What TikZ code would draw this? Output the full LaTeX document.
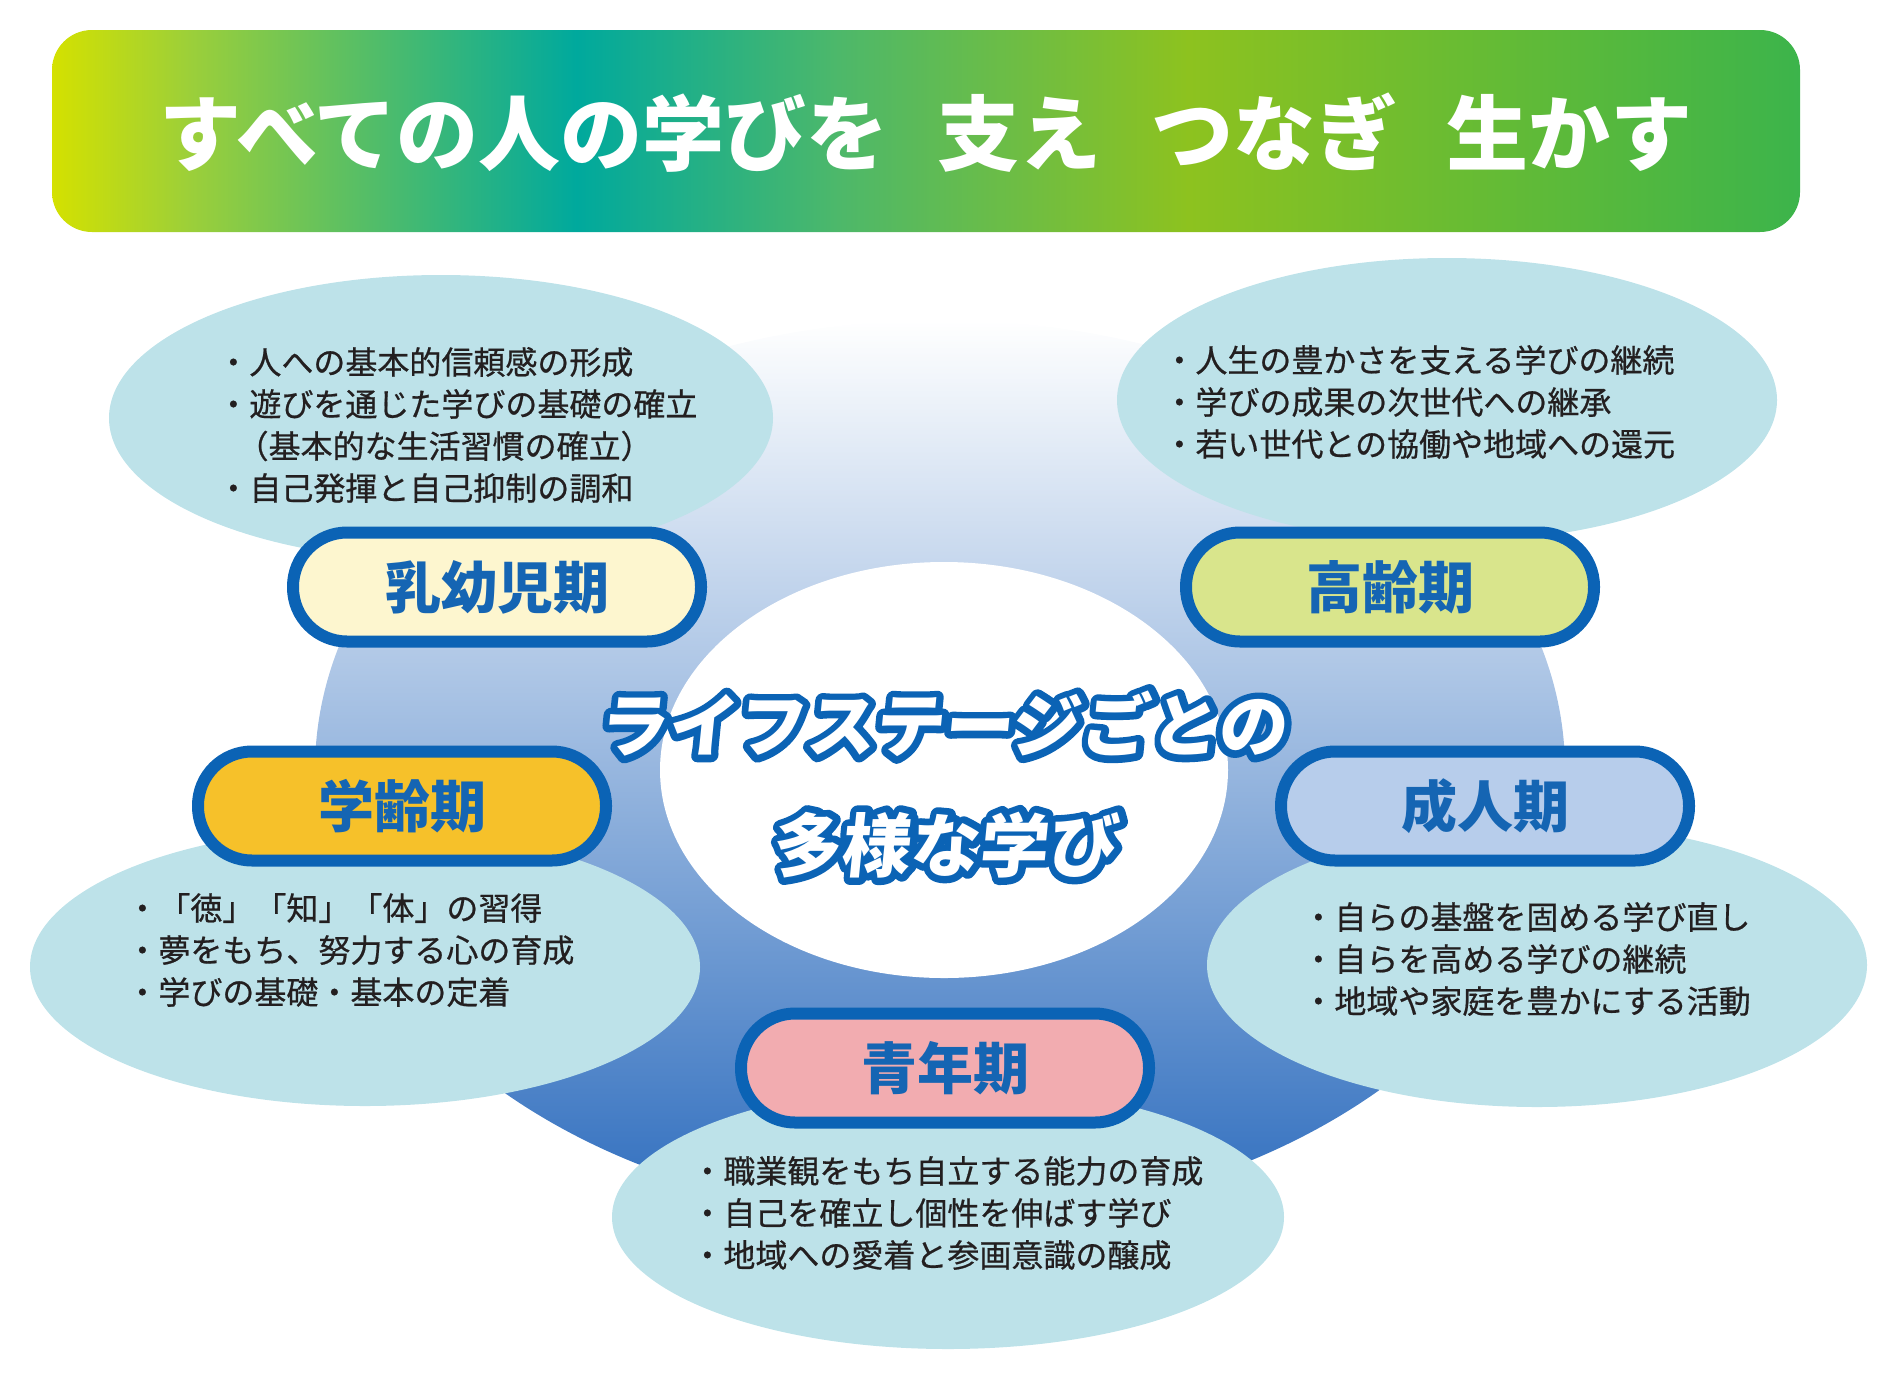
\documentclass[tikz,border=0pt]{standalone}
\usepackage{fontspec}
\usepackage{tikz}
\usetikzlibrary{calc}
\newfontfamily\jp{Noto Sans CJK JP}
\newfontfamily\jpnote{Noto Sans CJK JP}[FakeBold=0.6]

\definecolor{frameblue}{HTML}{0B63B5}
\definecolor{labelblue}{HTML}{1565B3}
\definecolor{bubblecol}{HTML}{BDE2E9}
\definecolor{bgmid}{HTML}{A9B4DD}
\definecolor{bgbottom}{HTML}{2E6DBE}
\definecolor{infant}{HTML}{FDF6CF}
\definecolor{senior}{HTML}{D9E58C}
\definecolor{school}{HTML}{F6C12A}
\definecolor{adult}{HTML}{B7CDEB}
\definecolor{youth}{HTML}{F2ACB0}
\definecolor{ink}{HTML}{231F20}
\definecolor{tga}{HTML}{D4E100}
\definecolor{tgb}{HTML}{9BCF3A}
\definecolor{tgc}{HTML}{00A99D}
\definecolor{tgd}{HTML}{4DB86A}
\definecolor{tge}{HTML}{8DC21F}
\definecolor{tgf}{HTML}{3CB44B}

\pgfdeclarehorizontalshading{titlebar}{100bp}{color(0bp)=(tga); color(25bp)=(tga);
  color(29bp)=(tgb); color(40bp)=(tgc); color(47.5bp)=(tgd); color(57.5bp)=(tge);
  color(75bp)=(tgf); color(100bp)=(tgf)}

% stroked (outlined) text for the motto
\newcommand\rimtext[1]{\special{pdf:literal direct 2 Tr 7 w 1 j 1 J 0.043 0.388 0.71 RG}#1\special{pdf:literal direct 0 Tr}}

\tikzset{
  stage/.style={draw=frameblue, line width=6pt, rounded corners=27pt,
    minimum width=204pt, minimum height=54.5pt, text=labelblue,
    font=\jp\bfseries\fontsize{28pt}{28pt}\selectfont},
  note/.style={anchor=west, align=left, inner sep=0pt, text=ink,
    font=\jpnote\fontsize{16pt}{21pt}\selectfont},
  rim/.style={text=frameblue, inner sep=0pt, transform shape,
    font=\jp\bfseries\fontsize{34.5pt}{34.5pt}\selectfont},
  core/.style={rim, text=white}
}

\begin{document}
\begin{tikzpicture}[x=0.5pt, y=-0.5pt]
\useasboundingbox (0,0) rectangle (1904,1387);

% title bar
\path[shading=titlebar, rounded corners=20pt] (52,30) rectangle (1800,232);
\node[text=white, font=\jp\bfseries\fontsize{41pt}{41pt}\selectfont] (title) at (926,133)
  {すべての人の学びを\hspace{0.6em}支え\hspace{0.6em}つなぎ\hspace{0.6em}生かす};

% background
\path[top color=white, middle color=bgmid, bottom color=bgbottom]
  (940,770) ellipse [x radius=625, y radius=450];
\fill[white] (944,770) ellipse [x radius=284, y radius=208];

% bubbles
\fill[bubblecol]
  (441,418) ellipse [x radius=332, y radius=143]
  (1447,400) ellipse [x radius=330, y radius=142]
  (365,967) ellipse [x radius=335, y radius=139]
  (1537,965) ellipse [x radius=330, y radius=142]
  (948,1217) ellipse [x radius=336, y radius=132];

% stages
\node[stage, fill=infant] (infant) at (497,587) {乳幼児期};
\node[stage, fill=senior] (senior) at (1390,587) {高齢期};
\node[stage, fill=school] (school) at (402,806) {学齢期};
\node[stage, fill=adult] (adult) at (1485,806) {成人期};
\node[stage, fill=youth] (youth) at (945,1068) {青年期};

% centre
\begin{scope}[shift={(945,724)}, xslant=0.1]
  \node[rim] (mottorim) at (0,0) {\rimtext{ライフステージごとの}};
  \node[core] (motto) at (0,0) {ライフステージごとの};
\end{scope}
\begin{scope}[shift={(947,845)}, xslant=0.1]
  \node[rim] (mottobrim) at (0,0) {\rimtext{多様な学び}};
  \node[core] (mottob) at (0,0) {多様な学び};
\end{scope}

% notes
\node[note] (infantnote) at (217,425) {・人への基本的信頼感の形成\\
  ・遊びを通じた学びの基礎の確立\\
  \hspace*{0.6em}（基本的な生活習慣の確立）\\
  ・自己発揮と自己抑制の調和};
\node[note] (seniornote) at (1163,402) {・人生の豊かさを支える学びの継続\\
  ・学びの成果の次世代への継承\\
  ・若い世代との協働や地域への還元};
\node[note] (schoolnote) at (126,950) {・「徳」「知」「体」の習得\\
  ・夢をもち、努力する心の育成\\
  ・学びの基礎・基本の定着};
\node[note] (adultnote) at (1302,959) {・自らの基盤を固める学び直し\\
  ・自らを高める学びの継続\\
  ・地域や家庭を豊かにする活動};
\node[note] (youthnote) at (691,1213) {・職業観をもち自立する能力の育成\\
  ・自己を確立し個性を伸ばす学び\\
  ・地域への愛着と参画意識の醸成};
\end{tikzpicture}
\end{document}
